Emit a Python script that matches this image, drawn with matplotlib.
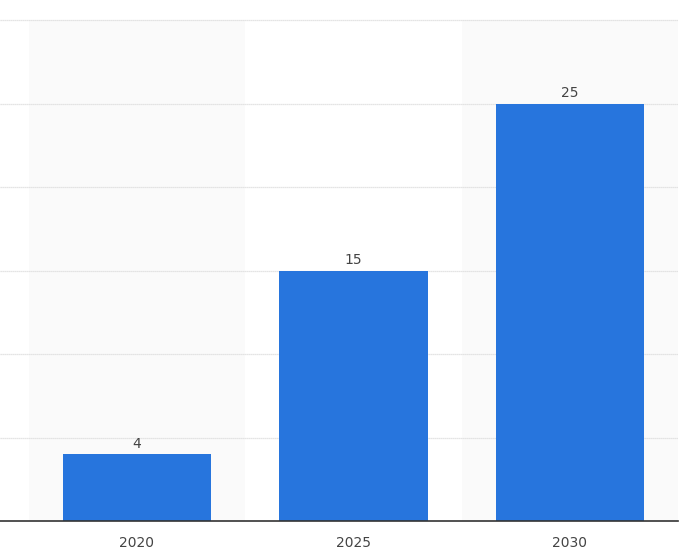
import matplotlib
matplotlib.use('Agg')
import matplotlib.pyplot as plt

######## DATA ############
years = ['2020', '2025', '2030']
values = [4, 15, 25]
bandTop = 30
##########################

barColour = '#2775dd'
bandColour = '#fafafa'
gridColour = '#dcdcdc'
textColour = '#444444'

fig = plt.figure(figsize=(6.91, 5.57), dpi=100)
ax = fig.add_axes([0.0, 36/557, 678/691, 521/557])

xPos = list(range(len(years)))

# alternating column shading (only up to the top gridline)
for i in xPos:
    if i % 2 == 0:
        ax.fill_between([i - 0.5, i + 0.5], 0, bandTop, color=bandColour, zorder=0, linewidth=0)

ax.bar(xPos, values, width=0.685, color=barColour, zorder=3)

for i, v in zip(xPos, values):
    ax.text(i, v + 0.2, str(v), ha='center', va='bottom', fontsize=10,
            color=textColour, zorder=4)

ax.set_xlim(-0.633, 2.5)
ax.set_ylim(0, 31.2)
ax.set_yticks([5, 10, 15, 20, 25, 30])
ax.yaxis.grid(True, color=gridColour, linestyle=(0, (1, 0.6)), linewidth=0.9, zorder=1)
ax.set_axisbelow(True)

ax.set_xticks(xPos)
ax.set_xticklabels(years, fontsize=10, color=textColour)
ax.tick_params(axis='x', length=0, pad=11)
ax.tick_params(axis='y', length=0, labelleft=False)

for side in ['top', 'right', 'left']:
    ax.spines[side].set_visible(False)
ax.spines['bottom'].set_color('#333333')
ax.spines['bottom'].set_linewidth(1.2)
ax.spines['bottom'].set_zorder(5)

plt.savefig('out.png', dpi=100)
